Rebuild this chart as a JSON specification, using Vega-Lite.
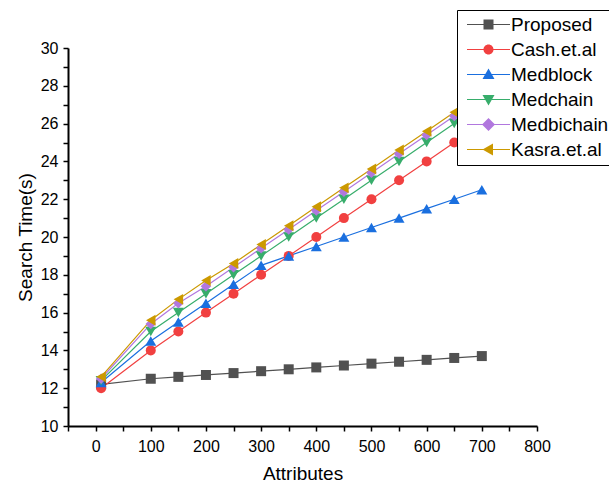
{
  "$schema": "https://vega.github.io/schema/vega-lite/v6.json",
  "width": 469,
  "height": 378,
  "autosize": "none",
  "padding": {"left": 68, "top": 48, "right": 72, "bottom": 60},
  "background": "white",
  "config": {
    "view": {"stroke": null},
    "font": "Liberation Sans",
    "axis": {"grid": false, "domainColor": "black", "domainWidth": 2, "tickColor": "black", "tickWidth": 1.5, "labelColor": "black", "titleColor": "black", "labelFont": "Liberation Sans", "titleFont": "Liberation Sans", "labelFontSize": 16, "titleFontSize": 19, "titleFontWeight": "normal"}
  },
  "data": {"values": [
    {"s":"Proposed","x":10,"y":12.2},{"s":"Proposed","x":100,"y":12.5},{"s":"Proposed","x":150,"y":12.6},{"s":"Proposed","x":200,"y":12.7},{"s":"Proposed","x":250,"y":12.8},{"s":"Proposed","x":300,"y":12.9},{"s":"Proposed","x":350,"y":13.0},{"s":"Proposed","x":400,"y":13.1},{"s":"Proposed","x":450,"y":13.2},{"s":"Proposed","x":500,"y":13.3},{"s":"Proposed","x":550,"y":13.4},{"s":"Proposed","x":600,"y":13.5},{"s":"Proposed","x":650,"y":13.6},{"s":"Proposed","x":700,"y":13.7},
    {"s":"Cash.et.al","x":10,"y":12.0},{"s":"Cash.et.al","x":100,"y":14},{"s":"Cash.et.al","x":150,"y":15},{"s":"Cash.et.al","x":200,"y":16},{"s":"Cash.et.al","x":250,"y":17},{"s":"Cash.et.al","x":300,"y":18},{"s":"Cash.et.al","x":350,"y":19},{"s":"Cash.et.al","x":400,"y":20},{"s":"Cash.et.al","x":450,"y":21},{"s":"Cash.et.al","x":500,"y":22},{"s":"Cash.et.al","x":550,"y":23},{"s":"Cash.et.al","x":600,"y":24},{"s":"Cash.et.al","x":650,"y":25},{"s":"Cash.et.al","x":700,"y":26},
    {"s":"Medblock","x":10,"y":12.3},{"s":"Medblock","x":100,"y":14.5},{"s":"Medblock","x":150,"y":15.5},{"s":"Medblock","x":200,"y":16.5},{"s":"Medblock","x":250,"y":17.5},{"s":"Medblock","x":300,"y":18.5},{"s":"Medblock","x":350,"y":19},{"s":"Medblock","x":400,"y":19.5},{"s":"Medblock","x":450,"y":20},{"s":"Medblock","x":500,"y":20.5},{"s":"Medblock","x":550,"y":21},{"s":"Medblock","x":600,"y":21.5},{"s":"Medblock","x":650,"y":22},{"s":"Medblock","x":700,"y":22.5},
    {"s":"Medchain","x":10,"y":12.4},{"s":"Medchain","x":100,"y":15},{"s":"Medchain","x":150,"y":16},{"s":"Medchain","x":200,"y":17},{"s":"Medchain","x":250,"y":18},{"s":"Medchain","x":300,"y":19},{"s":"Medchain","x":350,"y":20},{"s":"Medchain","x":400,"y":21},{"s":"Medchain","x":450,"y":22},{"s":"Medchain","x":500,"y":23},{"s":"Medchain","x":550,"y":24},{"s":"Medchain","x":600,"y":25},{"s":"Medchain","x":650,"y":26},{"s":"Medchain","x":700,"y":27},
    {"s":"Medbichain","x":10,"y":12.5},{"s":"Medbichain","x":100,"y":15.4},{"s":"Medbichain","x":150,"y":16.5},{"s":"Medbichain","x":200,"y":17.4},{"s":"Medbichain","x":250,"y":18.4},{"s":"Medbichain","x":300,"y":19.4},{"s":"Medbichain","x":350,"y":20.4},{"s":"Medbichain","x":400,"y":21.4},{"s":"Medbichain","x":450,"y":22.4},{"s":"Medbichain","x":500,"y":23.4},{"s":"Medbichain","x":550,"y":24.4},{"s":"Medbichain","x":600,"y":25.4},{"s":"Medbichain","x":650,"y":26.4},{"s":"Medbichain","x":700,"y":27.4},
    {"s":"Kasra.et.al","x":10,"y":12.6},{"s":"Kasra.et.al","x":100,"y":15.6},{"s":"Kasra.et.al","x":150,"y":16.7},{"s":"Kasra.et.al","x":200,"y":17.7},{"s":"Kasra.et.al","x":250,"y":18.6},{"s":"Kasra.et.al","x":300,"y":19.6},{"s":"Kasra.et.al","x":350,"y":20.6},{"s":"Kasra.et.al","x":400,"y":21.6},{"s":"Kasra.et.al","x":450,"y":22.6},{"s":"Kasra.et.al","x":500,"y":23.6},{"s":"Kasra.et.al","x":550,"y":24.6},{"s":"Kasra.et.al","x":600,"y":25.6},{"s":"Kasra.et.al","x":650,"y":26.6},{"s":"Kasra.et.al","x":700,"y":27.6}
  ]},
  "encoding": {
    "x": {"field": "x", "type": "quantitative", "scale": {"domain": [-50, 800], "nice": false, "zero": false},
      "axis": {"title": "Attributes", "values": [-50,0,50,100,150,200,250,300,350,400,450,500,550,600,650,700,750,800], "labelExpr": "datum.value % 100 == 0 ? datum.label : ''", "tickSize": 5, "labelPadding": 7, "titlePadding": 10, "labelFlush": false}},
    "y": {"field": "y", "type": "quantitative", "scale": {"domain": [10, 30], "nice": false, "zero": false},
      "axis": {"title": "Search Time(s)", "values": [10,11,12,13,14,15,16,17,18,19,20,21,22,23,24,25,26,27,28,29,30], "labelExpr": "datum.value % 2 == 0 ? datum.label : ''", "tickSize": 5, "labelPadding": 5, "titlePadding": 5, "labelFlush": false}},
    "color": {"field": "s", "type": "nominal",
      "scale": {"domain": ["Proposed","Cash.et.al","Medblock","Medchain","Medbichain","Kasra.et.al"], "range": ["#515151","#F14040","#1A6FDF","#37AD6B","#B177DE","#CC9900"]},
      "legend": {
        "title": null, "orient": "none", "legendX": 389, "legendY": -38,
        "fillColor": "white", "strokeColor": "black", "padding": 5,
        "labelFont": "Liberation Sans", "labelFontSize": 19, "labelColor": "black", "labelLimit": 300,
        "symbolSize": 100, "symbolOffset": 17, "labelOffset": 13, "rowPadding": 5,
        "encode": {
          "symbols": {"update": {
          "shape": {"signal": "datum.value === 'Proposed' ? 'M-4.3,-0.12H4.3V0.12H-4.3ZM-1,-1H1V1H-1Z' : datum.value === 'Cash.et.al' ? 'M-4.3,-0.12H4.3V0.12H-4.3ZM1,0A1,1,0,1,1,-1,0A1,1,0,1,1,1,0Z' : datum.value === 'Medblock' ? 'M-4.3,-0.12H4.3V0.12H-4.3ZM0,-1.2L1.2,0.9H-1.2Z' : datum.value === 'Medchain' ? 'M-4.3,-0.12H4.3V0.12H-4.3ZM0,1.2L-1.2,-0.9H1.2Z' : datum.value === 'Medbichain' ? 'M-4.3,-0.12H4.3V0.12H-4.3ZM0,-1.3L1.3,0L0,1.3L-1.3,0Z' : 'M-4.3,-0.12H4.3V0.12H-4.3ZM-1.2,0L0.9,-1.2V1.2Z'"},
          "fill": {"signal": "scale('color', datum.value)"},
          "stroke": {"value": "transparent"},
          "strokeWidth": {"value": 0},
          "opacity": {"value": 1},
          "fillOpacity": {"value": 1}
        }}}
      }}
  },
  "layer": [
    {"mark": {"type": "line", "strokeWidth": 1.2}, "encoding": {"detail": {"field": "s"}}},
    {"transform": [{"filter": "datum.s === 'Proposed'"}], "mark": {"type": "point", "shape": "square", "filled": true, "size": 100, "opacity": 1}},
    {"transform": [{"filter": "datum.s === 'Cash.et.al'"}], "mark": {"type": "point", "shape": "circle", "filled": true, "size": 100, "opacity": 1}},
    {"transform": [{"filter": "datum.s === 'Medblock'"}], "mark": {"type": "point", "shape": "triangle-up", "filled": true, "size": 120, "opacity": 1}},
    {"transform": [{"filter": "datum.s === 'Medchain'"}], "mark": {"type": "point", "shape": "triangle-down", "filled": true, "size": 120, "opacity": 1}},
    {"transform": [{"filter": "datum.s === 'Medbichain'"}], "mark": {"type": "point", "shape": "diamond", "filled": true, "size": 110, "opacity": 1}},
    {"transform": [{"filter": "datum.s === 'Kasra.et.al'"}], "mark": {"type": "point", "shape": "triangle-left", "filled": true, "size": 120, "opacity": 1}}
  ]
}
